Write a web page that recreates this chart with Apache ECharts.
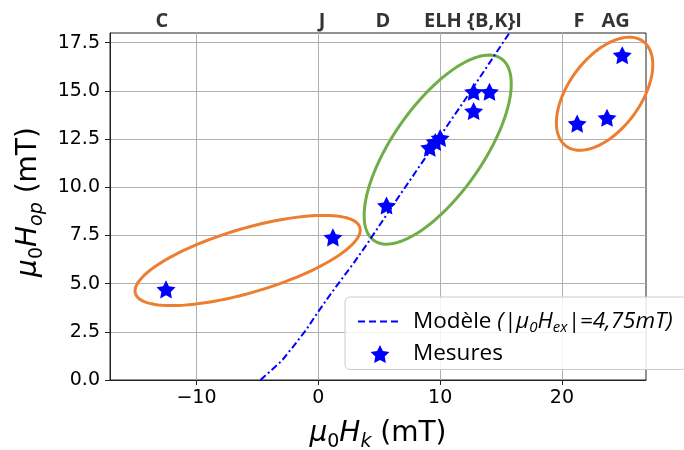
<!DOCTYPE html>
<html>
<head>
<meta charset="utf-8">
<script src="https://cdn.jsdelivr.net/npm/echarts@6/dist/echarts.min.js"></script>
<style>
html,body{margin:0;padding:0;background:#fff;}
#chart{width:684px;height:450px;}
</style>
</head>
<body>
<div id="chart"></div>
<script>
// ---- data ----
const mesuresX = [-12.5, 1.2, 5.6, 9.15, 9.6, 10.0, 12.75, 12.75, 14.05, 21.25, 23.7, 24.95];
const mesuresY = [4.7, 7.4, 9.05, 12.05, 12.35, 12.55, 14.95, 13.95, 14.95, 13.3, 13.6, 16.85];
const modelX = [-4.75, -4, -3, -2, -1, 0, 1, 2, 3, 4, 6, 8, 10, 12, 14, 16];
const modelY = [0, 0.42, 1.0, 1.78, 2.6, 3.55, 4.45, 5.3, 6.15, 7.05, 8.95, 10.8, 12.65, 14.5, 16.4, 18.3];
const topLabels = ['C', 'J', 'D', 'ELH {B,K}I', 'F', 'AG'];
const topLabelX = [-12.85, 0.3, 5.3, 12.7, 21.4, 24.4];
const groupCX = [-5.8, 9.8, 23.5];
const groupCY = [6.2, 11.95, 14.85];
const xTicks = [-10, 0, 10, 20];
const yTicks = [0, 2.5, 5, 7.5, 10, 12.5, 15, 17.5];
const X_MIN = -17.1, X_MAX = 26.9, Y_MIN = 0, Y_MAX = 18;

// ---- styles ----
const ellipseStyle = [
  {a: 117, b: 32, angle: 16.4, color: '#ED7D31'},
  {a: 111, b: 45, angle: 55, color: '#70AD47'},
  {a: 65, b: 36, angle: 53.7, color: '#ED7D31'}
];
const STAR = 'path://M0,-10 L2.94,-4.05 9.51,-3.09 4.76,1.55 5.88,8.09 0,5 -5.88,8.09 -4.76,1.55 -9.51,-3.09 -2.94,-4.05 Z';
const DV = 'DejaVu Sans';

const chart = echarts.init(document.getElementById('chart'), null, {renderer: 'canvas'});

const axisNameRich = {
  it: {fontFamily: DV, fontSize: 28, fontStyle: 'italic', color: '#000', lineHeight: 36},
  n: {fontFamily: DV, fontSize: 28, color: '#000', lineHeight: 36},
  sub: {fontFamily: DV, fontSize: 19, color: '#000', lineHeight: 19, verticalAlign: 'bottom'},
  subi: {fontFamily: DV, fontSize: 19, fontStyle: 'italic', color: '#000', lineHeight: 19, verticalAlign: 'bottom'}
};

const option = {
  backgroundColor: '#ffffff',
  animation: false,
  grid: {left: 110, right: 38, top: 33, bottom: 70, outerBoundsMode: 'none', containLabel: false,
    show: true, borderColor: '#222', borderWidth: 1, backgroundColor: 'transparent'},
  xAxis: {
    type: 'value', min: X_MIN, max: X_MAX,
    axisLine: {show: true, onZero: false, lineStyle: {color: '#222', width: 1}},
    axisTick: {show: true, customValues: xTicks, length: 5, lineStyle: {color: '#222'}},
    axisLabel: {customValues: xTicks, margin: 9, fontFamily: DV, fontSize: 19, color: '#000',
      formatter: v => (v < 0 ? '\u2212' + Math.abs(v) : String(v))},
    splitLine: {show: true, lineStyle: {color: '#b0b0b0', width: 1}},
    name: '{it|μ}{sub|0}{it|H}{subi|k}{n| (mT)}',
    nameLocation: 'middle', nameGap: 36,
    nameTextStyle: {rich: axisNameRich}
  },
  yAxis: {
    type: 'value', min: Y_MIN, max: Y_MAX,
    axisLine: {show: true, onZero: false, lineStyle: {color: '#222', width: 1}},
    axisTick: {show: true, customValues: yTicks, length: 5, lineStyle: {color: '#222'}},
    axisLabel: {customValues: yTicks, margin: 10, fontFamily: DV, fontSize: 19, color: '#000',
      formatter: v => v.toFixed(1)},
    splitLine: {show: true, lineStyle: {color: '#b0b0b0', width: 1}},
    name: '{it|μ}{sub|0}{it|H}{subi|op}{n| (mT)}',
    nameLocation: 'middle', nameGap: 62, nameRotate: 90,
    nameTextStyle: {rich: axisNameRich, padding: [0, 0, 0, 9]}
  },
  legend: {
    data: [
      {name: 'Modèle', itemStyle: {opacity: 0}, lineStyle: {type: [7, 4], width: 2, color: '#0000ff'}},
      {name: 'Mesures'}
    ],
    orient: 'vertical', left: 345, top: 297,
    backgroundColor: 'rgba(255,255,255,0.85)', borderColor: '#cccccc', borderWidth: 1, borderRadius: 5,
    padding: [13, 14, 4, 12], itemGap: 7, itemWidth: 44, itemHeight: 18,
    textStyle: {fontFamily: 'Open Sans', fontSize: 22.5, color: '#000', padding: [0, 0, 0, 6],
      rich: {
        n: {fontFamily: 'Open Sans', fontSize: 22.5, color: '#000', lineHeight: 28},
        i: {fontFamily: 'Open Sans', fontSize: 22.5, fontStyle: 'italic', color: '#000', lineHeight: 28},
        s: {fontFamily: 'Open Sans', fontSize: 15, fontStyle: 'italic', color: '#000', lineHeight: 15, verticalAlign: 'bottom'}
      }},
    formatter: name => name === 'Modèle'
      ? '{n|Modèle }{i|(|μ}{s|0}{i|H}{s|ex}{i||=4,75mT)}'
      : '{n|Mesures}'
  },
  series: [
    {
      name: 'ellipses', type: 'custom', silent: true, z: 2,
      data: groupCX.map((x, i) => [x, groupCY[i]]),
      renderItem: (params, api) => {
        const c = api.coord([api.value(0), api.value(1)]);
        const s = ellipseStyle[params.dataIndex];
        const th = s.angle * Math.PI / 180;
        const pts = [];
        for (let k = 0; k <= 120; k++) {
          const t = k / 120 * 2 * Math.PI;
          const ex = s.a * Math.cos(t), ey = s.b * Math.sin(t);
          pts.push([c[0] + ex * Math.cos(th) - ey * Math.sin(th), c[1] - (ex * Math.sin(th) + ey * Math.cos(th))]);
        }
        return {type: 'polygon', shape: {points: pts}, style: {fill: 'none', stroke: s.color, lineWidth: 3}};
      }
    },
    {
      name: 'Modèle', type: 'line', z: 3, symbol: 'none', clip: true,
      data: modelX.map((x, i) => [x, modelY[i]]),
      lineStyle: {color: '#0000ff', width: 2, type: [7, 3, 2, 3]},
      itemStyle: {color: '#0000ff'}
    },
    {
      name: 'Mesures', type: 'scatter', z: 4, symbol: STAR, symbolSize: 19, symbolKeepAspect: true,
      data: mesuresX.map((x, i) => [x, mesuresY[i]]),
      itemStyle: {color: '#0000ff', opacity: 1}
    },
    {
      name: 'labels', type: 'scatter', z: 5, silent: true, symbolSize: 0, clip: false,
      data: topLabelX.map((x, i) => ({value: [x, Y_MAX], name: topLabels[i]})),
      label: {show: true, position: 'top', distance: 2, formatter: p => p.name,
        fontFamily: 'Open Sans', fontWeight: 'bold', fontSize: 20, color: '#000'}
    }
  ]
};
chart.setOption(option);
</script>
</body>
</html>
